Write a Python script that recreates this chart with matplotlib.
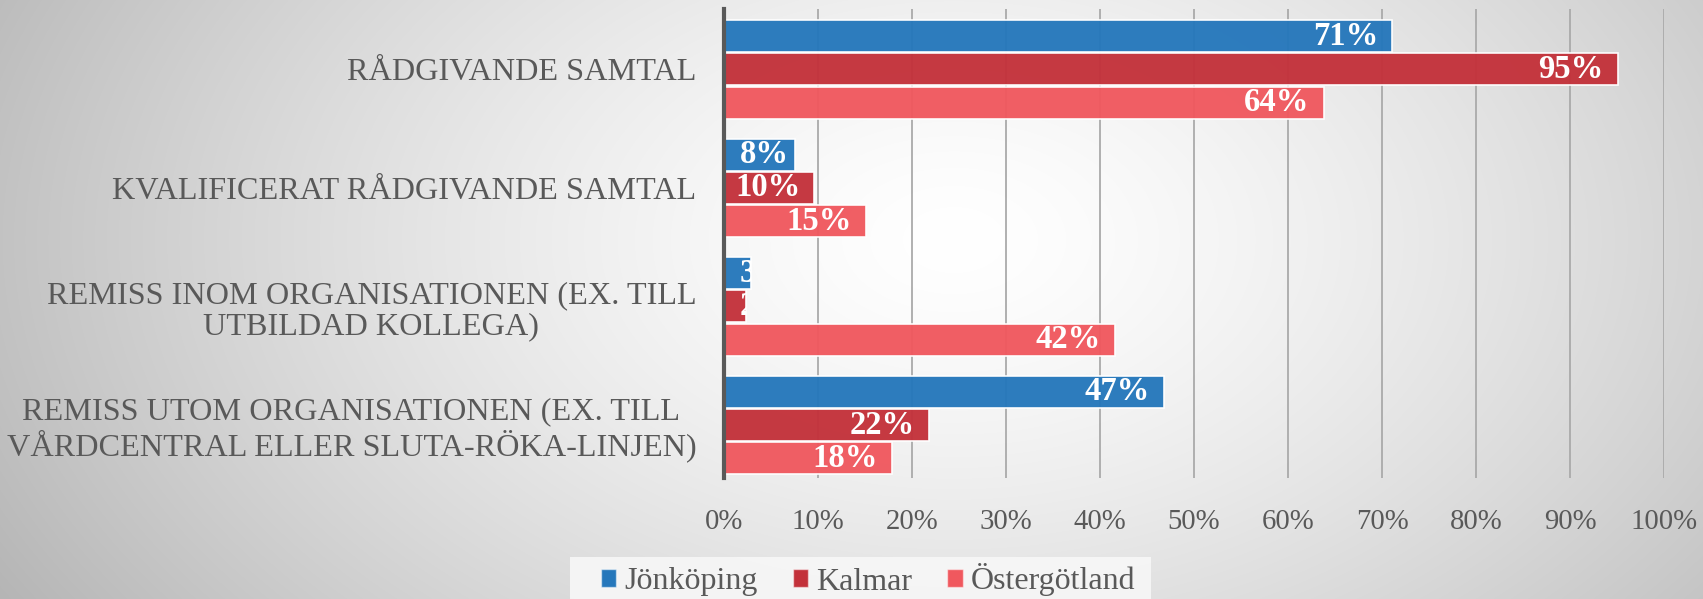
import numpy as np
import matplotlib
matplotlib.use("Agg")
import matplotlib.pyplot as plt
from matplotlib.patches import Patch, Rectangle
from matplotlib.transforms import Bbox, TransformedBbox

categories = [
    "RÅDGIVANDE SAMTAL",
    "KVALIFICERAT RÅDGIVANDE SAMTAL",
    "REMISS INOM ORGANISATIONEN (EX. TILL\nUTBILDAD KOLLEGA)",
    "REMISS UTOM ORGANISATIONEN (EX. TILL\nVÅRDCENTRAL ELLER SLUTA-RÖKA-LINJEN)",
]
series = ["Jönköping", "Kalmar", "Östergötland"]
jonkoping = [71.1, 7.6, 2.9, 46.8]
kalmar = [95.1, 9.6, 2.3, 21.8]
ostergotland = [63.8, 15.1, 41.6, 17.9]
xticks = [0, 10, 20, 30, 40, 50, 60, 70, 80, 90, 100]

colors = ["#2577bb", "#c3313a", "#f0585e"]
grey = "#595959"
serif = ["Liberation Serif", "DejaVu Serif"]

W, H = 1703, 599
fig = plt.figure(figsize=(W / 100, H / 100), dpi=100)

# radial background, white in the middle, grey at the edges
bg = fig.add_axes([0, 0, 1, 1], zorder=-5)
X, Y = np.meshgrid(np.arange(W), np.arange(H))
d = np.sqrt(((X - 0.56 * W) / (0.6 * W)) ** 2 + ((Y - 0.40 * H) / (1.1 * H)) ** 2)
v = 1 - 0.26 * np.clip(d, 0, 1.3) ** 1.4
bg.imshow(np.dstack([v, v, v]), aspect="auto", extent=(0, 1, 0, 1))
bg.axis("off")

ax = fig.add_axes([724 / W, 1 - 478 / H, 940 / W, 469 / H])
ax.patch.set_alpha(0)

y = np.arange(len(categories))
h = 0.27
offsets = [-0.28, 0.0, 0.28]
for vals, off, c, name in zip([jonkoping, kalmar, ostergotland], offsets, colors, series):
    bars = ax.barh(y + off, vals, height=h, color=c, alpha=0.96, edgecolor="#ffffff80",
                   linewidth=1.2, label=name, zorder=3)
    for b, val in zip(bars, vals):
        txt = "{:.0f}%".format(val)
        yc = b.get_y() + b.get_height() / 2
        if val < 9:
            # label too wide for the bar: start it at the axis, only the part on the bar shows
            t = ax.text(1.7, yc, txt, ha="left", va="center", color="white",
                        fontsize=23.5, fontweight="bold", family=serif, zorder=4)
            box = Bbox([[0, b.get_y()], [val, b.get_y() + b.get_height()]])
            t.set_clip_path(None)
            t.set_clip_box(TransformedBbox(box, ax.transData))
            t.set_clip_on(True)
        else:
            ax.text(val - 1.5, yc, txt, ha="right", va="center", color="white",
                    fontsize=23.5, fontweight="bold", family=serif, zorder=4)

ax.set_xlim(0, 100)
ax.set_ylim(3.447, -0.51)
ax.set_xticks(xticks)
ax.set_xticklabels(["{}%".format(t) for t in xticks], fontsize=20.7, family=serif, color=grey)
ax.set_yticks(y)
ax.set_yticklabels(categories, fontsize=23.2, family=serif, color=grey,
                   multialignment="center", linespacing=1.1)
ax.tick_params(axis="x", length=0, pad=22)
ax.tick_params(axis="y", length=0, pad=20)
ax.grid(axis="x", color="#aaaaaa", linewidth=1.3, zorder=0)
ax.set_axisbelow(True)
for s in ["top", "right", "bottom"]:
    ax.spines[s].set_visible(False)
ax.spines["left"].set_color(grey)
ax.spines["left"].set_linewidth(3)
ax.spines["left"].set_zorder(5)

# pale band behind the legend
fig.patches.append(Rectangle((570 / W, 0), 581 / W, 42 / H, transform=fig.transFigure,
                             facecolor="#f7f7f7", edgecolor="none", alpha=0.9, zorder=1))
handles = [Patch(facecolor=c, edgecolor="#ffffff80", label=n) for c, n in zip(colors, series)]
leg = fig.legend(handles=handles, loc="center", bbox_to_anchor=(868 / W, 1 - 580 / H),
                 ncol=3, frameon=False, handlelength=0.48, handleheight=0.48,
                 handletextpad=0.25, columnspacing=1.1, borderpad=0.1,
                 prop={"family": serif, "size": 23})
for t in leg.get_texts():
    t.set_color(grey)

fig.savefig("out.png", dpi=100)
